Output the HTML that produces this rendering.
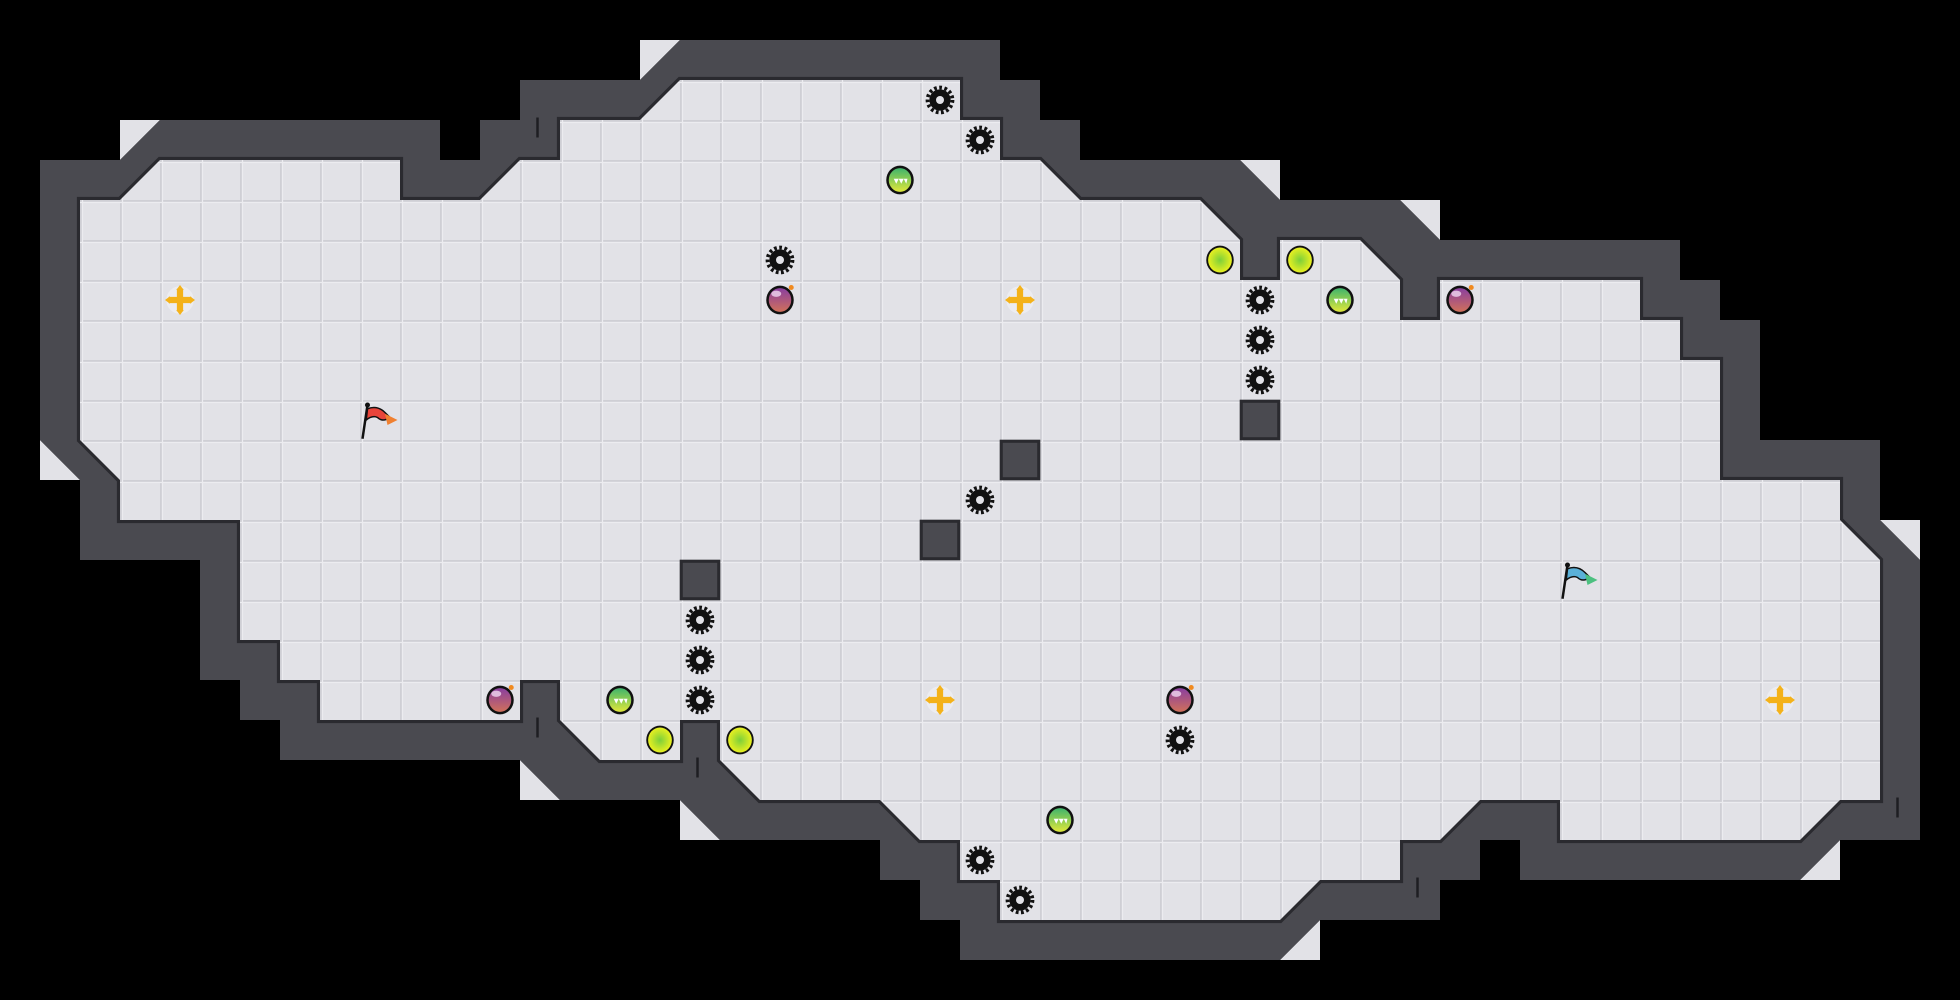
<!DOCTYPE html>
<html><head><meta charset="utf-8"><style>html,body{margin:0;padding:0;background:#000;}svg{display:block;}</style></head>
<body>
<svg width="1960" height="1000" viewBox="0 0 1568 800" xmlns="http://www.w3.org/2000/svg">
<defs>
<pattern id="tile" patternUnits="userSpaceOnUse" x="0" y="0" width="32" height="32">
<rect width="32" height="32" fill="#e2e2e7"/>
<rect x="0" y="0" width="32" height="1.5" fill="#cfcfd5"/>
<rect x="0" y="0" width="1.5" height="32" fill="#cfcfd5"/>
<rect x="0" y="1.5" width="32" height="1" fill="#ececf0"/>
<rect x="1.5" y="0" width="1" height="32" fill="#ececf0"/>
</pattern>
<radialGradient id="gy" cx="50%" cy="50%" r="50%"><stop offset="0" stop-color="#7ccf3a"/><stop offset="1" stop-color="#e8f020"/></radialGradient>
<linearGradient id="gg" x1="0" y1="0" x2="0" y2="1"><stop offset="0" stop-color="#3fb46c"/><stop offset="1" stop-color="#e0e83a"/></linearGradient>
<linearGradient id="gp" x1="0" y1="0" x2="0" y2="1"><stop offset="0" stop-color="#8a3fa0"/><stop offset="1" stop-color="#d0705a"/></linearGradient>
<g id="saw"><circle r="8.5" fill="#111"/><circle r="10" fill="none" stroke="#111" stroke-width="3" stroke-dasharray="2.2 2"/><circle r="3.2" fill="#e2e2e7"/></g>
<g id="gball"><ellipse rx="11" ry="11.5" fill="#111"/><ellipse rx="9" ry="9.5" fill="url(#gg)"/><path d="M-6,-1 L6,-1 L5,3 L3,-1 L1,3 L-1,-1 L-3,3 L-5,-1Z" fill="#fff"/></g>
<g id="yball"><ellipse rx="11" ry="11.5" fill="#111"/><ellipse rx="9.5" ry="10" fill="url(#gy)"/></g>
<g id="bomb"><ellipse rx="11" ry="11.5" fill="#111"/><ellipse rx="9" ry="9.5" fill="url(#gp)"/><ellipse cx="-3" cy="-5" rx="4" ry="2.5" fill="#f0d8f0" opacity="0.8"/><circle cx="9" cy="-10" r="2" fill="#f08a20"/></g>
<g id="plus"><circle r="11" fill="#ececf0"/><path d="M-2.5,-9 h5 v6.5 h6.5 v5 h-6.5 v6.5 h-5 v-6.5 h-6.5 v-5 h6.5z" fill="#f4b21a"/><path d="M0,-12 l3,4 h-6z M0,12 l3,-4 h-6z M-12,0 l4,3 v-6z M12,0 l-4,3 v-6z" fill="#f4b21a"/></g>
</defs>
<rect width="1568" height="800" fill="#000"/>
<!-- light corner triangles -->
<g fill="#e2e2e7">
<polygon points="96,96 128,96 96,128"/>
<polygon points="512,32 544,32 512,64"/>
<polygon points="992,128 1024,128 1024,160"/>
<polygon points="1120,160 1152,160 1152,192"/>
<polygon points="1504,416 1536,416 1536,448"/>
<polygon points="1440,704 1472,704 1472,672"/>
<polygon points="1024,768 1056,768 1056,736"/>
<polygon points="544,640 544,672 576,672"/>
<polygon points="416,608 416,640 448,640"/>
<polygon points="32,352 32,384 64,384"/>
</g>
<!-- wall -->
<polygon fill="#4a4a50" points="32,128 96,128 128,96 352,96 352,128 384,128 384,96 416,96 416,64 512,64 544,32 800,32 800,64 832,64 832,96 864,96 864,128 992,128 1024,160 1120,160 1152,192 1344,192 1344,224 1376,224 1376,256 1408,256 1408,352 1504,352 1504,416 1536,448 1536,672 1472,672 1440,704 1216,704 1216,672 1184,672 1184,704 1152,704 1152,736 1056,736 1024,768 768,768 768,736 736,736 736,704 704,704 704,672 576,672 544,640 448,640 416,608 224,608 224,576 192,576 192,544 160,544 160,448 64,448 64,384 32,352"/>
<!-- floor -->
<polygon id="fl" fill="#2a2a2f" stroke="#2a2a2f" stroke-width="5" stroke-linejoin="miter" points="64,160 96,160 128,128 320,128 320,160 384,160 416,128 448,128 448,96 512,96 544,64 768,64 768,96 800,96 800,128 832,128 864,160 960,160 992,192 992,224 1024,224 1024,192 1088,192 1120,224 1120,256 1152,256 1152,224 1312,224 1312,256 1344,256 1344,288 1376,288 1376,384 1472,384 1472,416 1504,448 1504,640 1472,640 1440,672 1248,672 1248,640 1184,640 1152,672 1120,672 1120,704 1056,704 1024,736 800,736 800,704 768,704 768,672 736,672 704,640 608,640 576,608 576,576 544,576 544,608 480,608 448,576 448,544 416,544 416,576 256,576 256,544 224,544 224,512 192,512 192,416 96,416 96,384 64,352"/>
<polygon fill="url(#tile)" points="64,160 96,160 128,128 320,128 320,160 384,160 416,128 448,128 448,96 512,96 544,64 768,64 768,96 800,96 800,128 832,128 864,160 960,160 992,192 992,224 1024,224 1024,192 1088,192 1120,224 1120,256 1152,256 1152,224 1312,224 1312,256 1344,256 1344,288 1376,288 1376,384 1472,384 1472,416 1504,448 1504,640 1472,640 1440,672 1248,672 1248,640 1184,640 1152,672 1120,672 1120,704 1056,704 1024,736 800,736 800,704 768,704 768,672 736,672 704,640 608,640 576,608 576,576 544,576 544,608 480,608 448,576 448,544 416,544 416,576 256,576 256,544 224,544 224,512 192,512 192,416 96,416 96,384 64,352"/>
<!-- blocks -->
<g fill="#4a4a50" stroke="#2a2a2f" stroke-width="2.5">
<rect x="993" y="321" width="30" height="30"/>
<rect x="801" y="353" width="30" height="30"/>
<rect x="737" y="417" width="30" height="30"/>
<rect x="545" y="449" width="30" height="30"/>
</g>
<!-- wall marks -->
<g stroke="#1e1e22" stroke-width="2">
<line x1="430" y1="94" x2="430" y2="110"/>
<line x1="430" y1="574" x2="430" y2="590"/>
<line x1="558" y1="606" x2="558" y2="622"/>
<line x1="1134" y1="702" x2="1134" y2="718"/>
<line x1="1518" y1="638" x2="1518" y2="654"/>
</g>
<!-- saws -->
<use href="#saw" x="752" y="80"/><use href="#saw" x="784" y="112"/><use href="#saw" x="624" y="208"/>
<use href="#saw" x="1008" y="240"/><use href="#saw" x="1008" y="272"/><use href="#saw" x="1008" y="304"/>
<use href="#saw" x="784" y="400"/><use href="#saw" x="560" y="496"/><use href="#saw" x="560" y="528"/>
<use href="#saw" x="560" y="560"/><use href="#saw" x="944" y="592"/><use href="#saw" x="784" y="688"/><use href="#saw" x="816" y="720"/>
<use href="#gball" x="720" y="144"/><use href="#gball" x="1072" y="240"/><use href="#gball" x="496" y="560"/><use href="#gball" x="848" y="656"/>
<use href="#yball" x="976" y="208"/><use href="#yball" x="1040" y="208"/><use href="#yball" x="528" y="592"/><use href="#yball" x="592" y="592"/>
<use href="#bomb" x="624" y="240"/><use href="#bomb" x="1168" y="240"/><use href="#bomb" x="400" y="560"/><use href="#bomb" x="944" y="560"/>
<use href="#plus" x="144" y="240"/><use href="#plus" x="816" y="240"/><use href="#plus" x="752" y="560"/><use href="#plus" x="1424" y="560"/>
<!-- flags -->
<g transform="translate(290,322)"><line x1="4" y1="2" x2="0" y2="29" stroke="#111" stroke-width="2"/><circle cx="4" cy="2" r="2" fill="#111"/><path d="M4,5 Q12,2 18,8 L22,12 Q16,16 12,12 Q8,10 3,14Z" fill="#e8443a" stroke="#111" stroke-width="1.2"/><path d="M18,9 L28,14 L20,18Z" fill="#f08030"/></g>
<g transform="translate(1250,450)"><line x1="4" y1="2" x2="0" y2="29" stroke="#111" stroke-width="2"/><circle cx="4" cy="2" r="2" fill="#111"/><path d="M4,5 Q12,2 18,8 L22,12 Q16,16 12,12 Q8,10 3,14Z" fill="#5ab0d8" stroke="#111" stroke-width="1.2"/><path d="M18,9 L28,14 L20,18Z" fill="#4cc080"/></g>
</svg>
</body></html>
